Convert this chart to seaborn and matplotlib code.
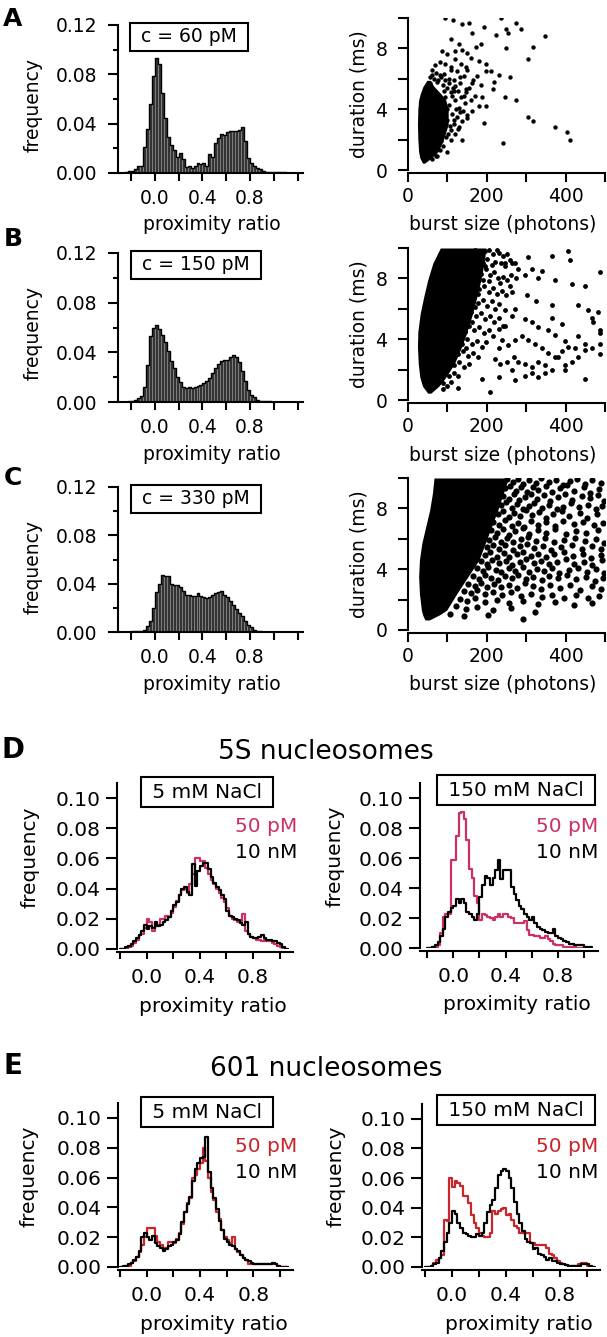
import numpy as np
import pandas as pd
import matplotlib
matplotlib.use("Agg")
import matplotlib.pyplot as plt
import seaborn as sns
from matplotlib.ticker import FixedLocator, FormatStrFormatter

# ---------------- data ----------------
# proximity-ratio histograms (panels A-C), bin width 0.025
pr_edges_abc = [round(v, 4) for v in np.arange(-0.25, 1.2001, 0.025)]
pr_centers_abc = [round(v + 0.0125, 5) for v in pr_edges_abc[:-1]]

freq_60pM = [0.001, 0.002, 0.002, 0.003, 0.006, 0.006, 0.021, 0.036, 0.056, 0.079,
             0.093, 0.088, 0.065, 0.045, 0.029, 0.023, 0.019, 0.013, 0.016, 0.011,
             0.005, 0.006, 0.004, 0.006, 0.008, 0.007, 0.008, 0.006, 0.015, 0.013,
             0.024, 0.028, 0.032, 0.031, 0.033, 0.034, 0.034, 0.034, 0.035, 0.037,
             0.026, 0.012, 0.008, 0.006, 0.004, 0.003, 0.002, 0.001, 0.001, 0.001,
             0.001, 0.0005, 0.0005, 0.0005, 0.0003, 0.0003, 0.0003, 0.0003]
freq_150pM = [0.0, 0.0005, 0.001, 0.002, 0.003, 0.005, 0.012, 0.030, 0.053, 0.060,
              0.062, 0.059, 0.054, 0.048, 0.041, 0.033, 0.027, 0.020, 0.016, 0.012,
              0.011, 0.012, 0.011, 0.012, 0.013, 0.014, 0.015, 0.017, 0.019, 0.023,
              0.027, 0.031, 0.033, 0.034, 0.034, 0.036, 0.038, 0.036, 0.032, 0.025,
              0.017, 0.010, 0.006, 0.004, 0.002, 0.001, 0.0005, 0.0005, 0.0005, 0.0003,
              0.0003, 0.0003, 0.0003, 0.0002, 0.0002, 0.0002, 0.0002, 0.0002]
freq_330pM = [0.0, 0.0, 0.0005, 0.0005, 0.001, 0.001, 0.002, 0.005, 0.009, 0.020,
              0.033, 0.040, 0.047, 0.046, 0.046, 0.040, 0.039, 0.039, 0.037, 0.034,
              0.031, 0.031, 0.030, 0.030, 0.032, 0.030, 0.029, 0.028, 0.029, 0.031,
              0.032, 0.033, 0.034, 0.031, 0.029, 0.026, 0.022, 0.019, 0.016, 0.013,
              0.009, 0.006, 0.004, 0.002, 0.001, 0.0005, 0.0003, 0.0002, 0.0002, 0.0002,
              0.0002, 0.0002, 0.0002, 0.0001, 0.0001, 0.0001, 0.0001, 0.0001]
conc_labels = ["c = 60 pM", "c = 150 pM", "c = 330 pM"]

# burst size / duration scatter: dense core envelope (ms vs photons) and individual bursts
core_A_y = [0.45, 0.8, 1.2, 2.0, 3.0, 4.0, 4.6, 5.0, 5.5, 5.9]
core_A_left = [37, 30, 27, 25, 24, 25, 27, 31, 38, 48]
core_A_right = [42, 60, 76, 90, 102, 102, 96, 84, 66, 56]
bursts_A = [(95,10.0),(114,9.9),(138,9.6),(155,9.7),(194,9.4),(237,10.0),(275,9.7),(288,9.3),(348,8.8),(318,8.1),
            (305,7.3),(249,9.3),(254,9.0),(224,8.9),(185,8.3),(249,8.0),(258,6.1),(245,4.8),(275,4.6),(241,1.75),
            (305,3.5),(318,3.2),(374,2.85),(404,2.5),(411,2.0),(194,3.1),(138,2.0),(99,1.2),(73,0.9),(215,5.3),
            (198,6.5),(219,5.8),(163,5.7),(146,6.8),(120,7.3),(108,6.8),(86,7.8),(69,6.9),(129,8.3),(108,8.6),
            (163,9.0),(172,8.1),(150,7.7),(198,7.0),(211,6.5),(181,7.2),(138,7.9),(232,6.25),(189,4.8),(181,4.2),
            (163,3.9),(198,4.2),(150,3.4),(129,2.85),(120,2.4),(108,2.0),(95,5.9),(103,5.7),(120,5.5),(146,5.3),
            (133,6.1),(82,6.25),(60,6.25),(56,5.7),(73,5.8),(95,4.8),(105,4.3),(112,3.7),(100,3.3),(118,3.0),
            (108,2.6),(96,2.2),(90,1.6),(80,1.3),(70,0.95),(60,0.7),(125,3.5),(130,4.1),(120,4.6),(110,5.1),
            (98,5.4),(88,5.6),(75,5.9),(65,6.0),(55,6.1),(140,3.9),(135,4.8),(145,4.4),(150,3.6),(100,4.0),
            (115,5.4),(128,5.2),(85,6.1),(70,6.4),(92,6.3),(105,6.0),(118,5.9),(132,5.7),(148,5.1),(160,4.6),
            (155,5.4),(170,4.9),(165,5.9),(142,6.2),(125,6.5),(110,6.6),(95,7.0),(80,7.1),(135,7.0),(150,6.6),
            (160,7.4),(175,6.2),(185,5.6),(120,7.8),(100,7.6),(112,4.9),(122,4.0),(116,3.3),(106,2.9),(102,2.4),
            (126,2.7),(138,3.2),(132,3.8),(142,4.9),(118,5.2),(92,5.2),(84,1.9),(62,6.6)]

core_B_y = [0.45, 0.9, 1.5, 2.4, 3.5, 4.5, 5.7, 6.8, 7.9, 9.0, 10.0]
core_B_left = [50, 37, 30, 26, 24, 25, 31, 40, 50, 63, 82]
core_B_right = [58, 78, 96, 118, 136, 150, 164, 175, 185, 193, 198]
bursts_B = [(170,9.9),(180,9.7),(195,9.8),(205,9.9),(215,9.6),(225,9.9),(232,9.7),(240,9.5),(250,9.6),(258,9.2),
            (265,9.0),(175,9.2),(190,9.0),(200,9.3),(212,8.9),(222,9.1),(235,9.0),(245,8.8),(172,8.5),(185,8.3),
            (197,8.6),(208,8.2),(218,8.4),(228,8.0),(240,8.1),(252,7.9),(262,8.2),(275,8.0),(168,7.6),(180,7.3),
            (193,7.5),(205,7.1),(215,7.4),(225,7.0),(238,7.2),(248,6.9),(258,7.5),(165,6.7),(178,6.4),(190,6.6),
            (200,6.2),(212,6.5),(222,6.0),(232,6.3),(245,5.9),(160,5.8),(172,5.5),(185,5.7),(195,5.3),(208,5.5),
            (218,5.1),(230,5.4),(240,4.9),(155,4.9),(168,4.6),(180,4.8),(192,4.4),(205,4.6),(215,4.2),(150,4.0),
            (162,3.7),(175,3.9),(188,3.5),(198,3.8),(140,3.2),(152,2.9),(165,3.1),(178,2.8),(130,2.5),(142,2.2),
            (155,2.4),(118,1.8),(128,1.6),(110,1.2),(100,0.9),(90,0.7),(160,9.5),(165,8.9),(163,8.0),(158,7.0),
            (155,6.2),(150,5.3),(145,4.5),(138,3.7),(128,3.0),(118,2.3),(105,1.6),(88,1.1),(185,9.5),(195,8.8),
            (205,7.8),(190,7.9),(178,7.0),(170,6.1),(162,5.1),(148,3.4),
            (234,7.7),(263,7.1),(305,9.4),(365,9.5),(407,9.8),(411,9.2),(487,8.4),(449,7.5),(417,7.6),(373,7.9),
            (331,8.0),(314,8.6),(340,8.5),(297,8.2),(280,8.6),(246,9.0),(272,9.0),(301,6.9),(324,6.5),(365,6.25),
            (432,6.25),(458,5.9),(483,5.8),(466,5.4),(470,5.15),(487,4.6),(487,4.4),(272,6.0),(263,5.5),(246,4.9),
            (230,4.7),(297,5.3),(314,5.15),(331,4.8),(365,5.4),(390,5.0),(356,4.6),(373,4.3),(398,3.9),(432,4.2),
            (449,3.7),(466,3.4),(487,3.7),(487,3.0),(449,3.3),(424,3.4),(407,3.5),(390,3.2),(373,2.85),(356,3.1),
            (340,3.4),(322,3.7),(305,3.95),(289,4.2),(272,3.95),(255,3.6),(238,3.95),(230,3.4),(221,2.7),(234,2.4),
            (251,2.5),(268,2.85),(280,2.5),(297,2.4),(314,2.2),(331,2.5),(348,2.3),(365,2.0),(381,2.85),(398,2.3),
            (415,2.5),(432,2.85),(449,1.4),(398,2.0),(297,1.6),(263,2.0),(230,1.5),(208,0.55),(187,1.4),(128,0.77),
            (314,1.75),(331,1.5),(348,1.75),(272,1.3)]

core_C_y = [0.66, 1.0, 1.3, 2.4, 3.5, 4.6, 5.7, 6.8, 7.9, 9.0, 10.0]
core_C_left = [43, 37, 34, 29, 27, 29, 35, 45, 55, 62, 66]
core_C_right = [54, 80, 98, 124, 152, 180, 196, 212, 228, 242, 255]
bursts_C = [(252,9.92),(266,9.71),(279,9.95),(293,9.58),(307,9.88),(324,9.66),(338,9.97),(357,9.74),(376,9.90),(393,9.55),
            (411,9.83),(428,9.96),(449,9.62),(468,9.87),(489,9.70),(246,9.31),(259,9.47),(273,9.12),(287,9.38),(301,9.05),
            (316,9.44),(331,9.21),(349,9.49),(366,9.08),(386,9.33),(404,9.52),(421,9.16),(446,9.40),(463,9.02),(486,9.28),
            (241,8.83),(256,8.61),(269,8.92),(282,8.55),(296,8.78),(311,8.97),(327,8.64),(346,8.86),(361,8.50),(381,8.73),
            (399,8.95),(417,8.58),(441,8.81),(461,8.66),(481,8.90),(497,8.47),(236,8.22),(249,8.41),(263,8.05),(277,8.30),
            (291,7.98),(306,8.18),(321,8.37),(339,8.02),(357,8.25),(377,7.93),(394,8.12),(413,8.34),(433,8.07),(456,8.21),
            (476,7.96),(493,8.15),(228,7.62),(242,7.81),(256,7.45),(269,7.70),(283,7.52),(299,7.88),(314,7.58),(333,7.76),
            (351,7.40),(369,7.66),(391,7.83),(409,7.47),(436,7.71),(454,7.35),(479,7.60),(217,7.12),(231,6.93),(247,7.22),
            (263,6.86),(279,7.05),(294,6.78),(313,7.15),(331,6.90),(349,7.08),(373,6.82),(394,7.19),(421,6.95),(444,7.11),
            (471,6.88),(494,7.03),(211,6.55),(226,6.36),(241,6.62),(256,6.28),(271,6.49),(291,6.70),(307,6.33),(329,6.58),
            (351,6.41),(374,6.66),(401,6.30),(426,6.52),(451,6.38),(481,6.61),(206,5.92),(221,6.10),(236,5.81),(251,6.03),
            (267,5.76),(286,5.97),(304,6.12),(326,5.85),(347,6.04),(371,5.79),(397,5.95),(423,6.08),(449,5.83),(477,5.99),
            (497,5.72),(201,5.45),(216,5.62),(231,5.33),(247,5.58),(266,5.28),(283,5.51),(301,5.66),(319,5.38),(343,5.55),
            (364,5.25),(389,5.47),(416,5.60),(441,5.30),(467,5.52),(491,5.36),(196,4.95),(209,5.12),(226,4.83),(243,5.06),
            (257,4.78),(276,4.99),(291,5.15),(311,4.86),(329,5.03),(351,4.80),(371,4.97),(396,5.10),(419,4.84),(443,5.01),
            (464,4.76),(489,4.93),(186,4.52),(201,4.35),(214,4.61),(231,4.40),(249,4.57),(264,4.28),(283,4.49),(299,4.66),
            (319,4.38),(337,4.55),(359,4.31),(377,4.50),(401,4.64),(421,4.33),(446,4.47),(467,4.25),(493,4.58),(176,4.05),
            (191,3.88),(204,4.12),(223,3.95),(237,3.80),(256,4.08),(271,3.90),(291,4.15),(307,3.83),(327,4.02),(344,3.86),
            (366,4.10),(384,3.78),(409,3.97),(431,4.11),(454,3.82),(477,4.00),(497,3.75),(166,3.52),(181,3.38),(196,3.61),
            (211,3.45),(229,3.30),(246,3.57),(263,3.41),(279,3.63),(299,3.35),(317,3.50),(339,3.28),(357,3.55),(381,3.40),
            (403,3.62),(426,3.33),(451,3.48),(474,3.25),(496,3.44),(152,3.05),(169,2.92),(186,3.10),(201,2.85),(219,3.02),
            (235,2.80),(256,2.96),(276,2.75),(296,3.07),(316,2.88),(337,2.70),(361,2.98),(386,2.78),(411,2.93),(437,2.66),
            (466,2.90),(489,2.72),(141,2.55),(159,2.42),(176,2.60),(196,2.35),(216,2.50),(239,2.28),(261,2.47),(286,2.22),
            (311,2.40),(339,2.15),(366,2.33),(396,2.12),(426,2.30),(456,2.08),(486,2.25),(131,2.05),(149,1.92),(171,2.10),
            (196,1.85),(226,1.98),(256,1.75),(291,1.90),(331,1.70),(372,1.82),(421,1.65),(468,1.78),(121,1.55),(146,1.40),
            (176,1.50),(216,1.30),(262,1.45),(322,1.20),(106,1.05),(141,0.90),(203,1.00),(292,0.75)]

# nucleosome histograms (panels D, E), bin width 0.02
pr_edges_de = [round(v, 4) for v in np.arange(-0.2, 1.0601, 0.02)]
pr_centers_de = [round(v + 0.01, 5) for v in pr_edges_de[:-1]]
salt_labels = ["5 mM NaCl", "150 mM NaCl"]
series_labels = ["50 pM", "10 nM"]

s5_5mM_50pM = [0.000, 0.000, 0.000, 0.001, 0.002, 0.004, 0.006, 0.009, 0.010, 0.014,
               0.020, 0.018, 0.012, 0.015, 0.016, 0.020, 0.020, 0.022, 0.021, 0.024,
               0.028, 0.032, 0.036, 0.039, 0.040, 0.037, 0.043, 0.050, 0.060, 0.060,
               0.058, 0.058, 0.054, 0.050, 0.046, 0.043, 0.040, 0.037, 0.034, 0.031,
               0.027, 0.022, 0.020, 0.019, 0.018, 0.018, 0.023, 0.012, 0.010, 0.008,
               0.007, 0.006, 0.006, 0.005, 0.006, 0.005, 0.005, 0.004, 0.003, 0.002,
               0.001, 0.000, 0.000]
s5_5mM_10nM = [0.000, 0.000, 0.001, 0.002, 0.003, 0.005, 0.007, 0.009, 0.012, 0.016,
               0.013, 0.015, 0.014, 0.018, 0.015, 0.016, 0.018, 0.019, 0.021, 0.025,
               0.029, 0.031, 0.036, 0.040, 0.041, 0.038, 0.036, 0.056, 0.042, 0.052,
               0.055, 0.057, 0.057, 0.053, 0.048, 0.044, 0.041, 0.039, 0.036, 0.033,
               0.025, 0.022, 0.021, 0.020, 0.019, 0.017, 0.016, 0.018, 0.010, 0.008,
               0.007, 0.007, 0.008, 0.009, 0.007, 0.006, 0.006, 0.005, 0.005, 0.004,
               0.003, 0.001, 0.000]
s5_150mM_50pM = [0.000, 0.000, 0.001, 0.001, 0.002, 0.010, 0.021, 0.023, 0.023, 0.059,
                 0.059, 0.075, 0.090, 0.091, 0.086, 0.072, 0.053, 0.047, 0.035, 0.030,
                 0.019, 0.023, 0.022, 0.021, 0.020, 0.019, 0.021, 0.023, 0.021, 0.023,
                 0.023, 0.021, 0.020, 0.017, 0.017, 0.017, 0.017, 0.018, 0.012, 0.009,
                 0.009, 0.008, 0.008, 0.007, 0.007, 0.008, 0.006, 0.005, 0.003, 0.002,
                 0.002, 0.002, 0.001, 0.001, 0.001, 0.001, 0.001, 0.000, 0.000, 0.000,
                 0.000, 0.000, 0.000]
s5_150mM_10nM = [0.000, 0.000, 0.001, 0.002, 0.004, 0.008, 0.013, 0.021, 0.024, 0.027,
                 0.028, 0.033, 0.030, 0.033, 0.030, 0.024, 0.023, 0.021, 0.019, 0.023,
                 0.034, 0.042, 0.048, 0.047, 0.042, 0.047, 0.052, 0.059, 0.046, 0.052,
                 0.052, 0.052, 0.041, 0.036, 0.032, 0.028, 0.026, 0.023, 0.021, 0.019,
                 0.021, 0.017, 0.014, 0.013, 0.012, 0.011, 0.010, 0.010, 0.013, 0.008,
                 0.007, 0.006, 0.005, 0.004, 0.003, 0.003, 0.002, 0.002, 0.002, 0.002,
                 0.001, 0.001, 0.001]
n601_5mM_50pM = [0.000, 0.000, 0.001, 0.001, 0.003, 0.004, 0.007, 0.010, 0.015, 0.020,
                 0.026, 0.026, 0.026, 0.021, 0.017, 0.015, 0.013, 0.013, 0.017, 0.017,
                 0.016, 0.019, 0.023, 0.029, 0.037, 0.043, 0.046, 0.060, 0.062, 0.066,
                 0.070, 0.080, 0.071, 0.060, 0.050, 0.045, 0.037, 0.032, 0.025, 0.020,
                 0.018, 0.016, 0.020, 0.012, 0.010, 0.008, 0.006, 0.005, 0.002, 0.002,
                 0.002, 0.002, 0.002, 0.002, 0.002, 0.002, 0.002, 0.002, 0.002, 0.001,
                 0.000, 0.000, 0.000]
n601_5mM_10nM = [0.000, 0.001, 0.001, 0.002, 0.003, 0.005, 0.007, 0.011, 0.020, 0.023,
                 0.020, 0.018, 0.021, 0.016, 0.014, 0.013, 0.011, 0.012, 0.014, 0.015,
                 0.017, 0.018, 0.022, 0.030, 0.037, 0.042, 0.047, 0.058, 0.066, 0.070,
                 0.073, 0.074, 0.087, 0.064, 0.053, 0.046, 0.039, 0.031, 0.025, 0.019,
                 0.017, 0.015, 0.014, 0.012, 0.011, 0.008, 0.006, 0.005, 0.004, 0.003,
                 0.002, 0.002, 0.002, 0.002, 0.002, 0.002, 0.002, 0.003, 0.002, 0.001,
                 0.000, 0.000, 0.000]
n601_150mM_50pM = [0.000, 0.000, 0.001, 0.003, 0.005, 0.006, 0.008, 0.032, 0.031, 0.060,
                   0.054, 0.058, 0.057, 0.055, 0.048, 0.048, 0.043, 0.035, 0.030, 0.026,
                   0.023, 0.021, 0.020, 0.020, 0.023, 0.038, 0.036, 0.038, 0.039, 0.040,
                   0.035, 0.036, 0.032, 0.028, 0.026, 0.023, 0.023, 0.023, 0.023, 0.016,
                   0.016, 0.015, 0.015, 0.015, 0.015, 0.013, 0.009, 0.008, 0.006, 0.004,
                   0.003, 0.002, 0.0015, 0.001, 0.001, 0.001, 0.001, 0.002, 0.003, 0.003,
                   0.001, 0.000, 0.000]
n601_150mM_10nM = [0.000, 0.000, 0.001, 0.002, 0.003, 0.006, 0.011, 0.017, 0.023, 0.030,
                   0.038, 0.036, 0.030, 0.026, 0.023, 0.022, 0.021, 0.020, 0.020, 0.022,
                   0.021, 0.023, 0.030, 0.037, 0.042, 0.045, 0.053, 0.062, 0.065, 0.066,
                   0.065, 0.060, 0.053, 0.044, 0.036, 0.030, 0.024, 0.019, 0.017, 0.016,
                   0.012, 0.013, 0.009, 0.008, 0.007, 0.005, 0.006, 0.004, 0.004, 0.003,
                   0.002, 0.002, 0.0015, 0.001, 0.001, 0.001, 0.001, 0.001, 0.002, 0.002,
                   0.002, 0.001, 0.000]

# ---------------- figure ----------------
sns.set_theme(style="ticks", rc={"axes.edgecolor": "black", "xtick.color": "black",
                                 "ytick.color": "black", "text.color": "black",
                                 "axes.labelcolor": "black"})
plt.rcParams["font.family"] = ["DejaVu Sans"]

W, H = 607, 1337
fig = plt.figure(figsize=(W / 100, H / 100), dpi=100)
fig.patch.set_facecolor("white")


def px_axes(l, t, r, b):
    return fig.add_axes([l / W, 1 - b / H, (r - l) / W, (b - t) / H])


def ftext(x, y, s, **kw):
    return fig.text(x / W, 1 - y / H, s, **kw)


def base_style(ax):
    for sp in ["top", "right"]:
        ax.spines[sp].set_visible(False)
    for sp in ["left", "bottom"]:
        ax.spines[sp].set_linewidth(1.5)
    ax.set_xlabel("")
    ax.set_ylabel("")
    ax.set_facecolor("white")


BOX = dict(boxstyle="square,pad=0.25", facecolor="white", edgecolor="black", linewidth=1.5)

# ---- panels A-C ----
hist_rows = [(25, 173), (253, 402), (487, 632)]
hist_data = [freq_60pM, freq_150pM, freq_330pM]
scatter_rows = [(18, 170), (248, 400), (478, 630)]
cores = [(core_A_y, core_A_left, core_A_right, bursts_A, 10),
         (core_B_y, core_B_left, core_B_right, bursts_B, 12),
         (core_C_y, core_C_left, core_C_right, bursts_C, 20)]
letters = ["A", "B", "C"]
letter_y = [19, 239, 478]
box_x = [189, 196, 196]

for i in range(3):
    t, b = hist_rows[i]
    ax = px_axes(118, t, 303, b)
    hdf = pd.DataFrame({"pr": pr_centers_abc, "freq": hist_data[i]})
    sns.histplot(data=hdf, x="pr", weights="freq", bins=pr_edges_abc, ax=ax,
                 color="#333333", edgecolor="#8c8c8c", linewidth=0.5, alpha=1)
    sns.histplot(data=hdf, x="pr", weights="freq", bins=pr_edges_abc, ax=ax,
                 element="step", fill=False, color="black", linewidth=1.0)
    base_style(ax)
    ax.set_xlim(-0.31, 1.245)
    ax.set_ylim(0, 0.12)
    ax.xaxis.set_major_locator(FixedLocator([0.0, 0.4, 0.8]))
    ax.xaxis.set_minor_locator(FixedLocator([-0.2, 0.2, 0.6, 1.0, 1.2]))
    ax.yaxis.set_major_locator(FixedLocator([0.0, 0.04, 0.08, 0.12]))
    ax.yaxis.set_minor_locator(FixedLocator([0.02, 0.06, 0.10]))
    ax.xaxis.set_major_formatter(FormatStrFormatter("%.1f"))
    ax.yaxis.set_major_formatter(FormatStrFormatter("%.2f"))
    ax.tick_params(axis="x", which="both", length=5.8, width=1.5, pad=6, labelsize=13.5, direction="out")
    ax.tick_params(axis="y", which="major", length=7, width=1.5, pad=8, labelsize=13.5, direction="out")
    ax.tick_params(axis="y", which="minor", length=3.5, width=1.5, direction="out")
    ftext(33, t + 80, "frequency", rotation=90, ha="center", va="center", fontsize=13.5)
    ftext(212, b + 52, "proximity ratio", ha="center", va="center", fontsize=13.5)
    ftext(box_x[i], t + 12, " " + conc_labels[i] + " ",
          ha="center", va="center", fontsize=13.5, bbox=BOX)
    ftext(13, letter_y[i], letters[i], ha="center", va="center", fontsize=18, fontweight="bold")

    # scatter
    st, sb = scatter_rows[i]
    axs = px_axes(408, st, 605, sb)
    cy, cl, cr, pts, msize = cores[i]
    axs.fill_betweenx(cy, cl, cr, color="black", linewidth=0)
    sdf = pd.DataFrame(pts, columns=["photons", "ms"])
    sns.scatterplot(data=sdf, x="photons", y="ms", ax=axs, s=msize,
                    color="black", linewidth=0)
    base_style(axs)
    axs.spines["bottom"].set_position(("outward", 2))
    axs.set_xlim(0, 500)
    axs.set_ylim(0, 10)
    axs.xaxis.set_major_locator(FixedLocator([0, 200, 400]))
    axs.xaxis.set_minor_locator(FixedLocator([100, 300, 500]))
    axs.yaxis.set_major_locator(FixedLocator([0, 4, 8]))
    axs.yaxis.set_minor_locator(FixedLocator([2, 6, 10]))
    axs.xaxis.set_major_formatter(FormatStrFormatter("%d"))
    axs.yaxis.set_major_formatter(FormatStrFormatter("%d"))
    axs.tick_params(axis="x", which="both", length=6.5, width=1.5, pad=4, labelsize=13.5, direction="out")
    axs.tick_params(axis="y", which="both", length=7, width=1.5, pad=8, labelsize=13.5, direction="out")
    ftext(359, st + 76, "duration (ms)", rotation=90, ha="center", va="center", fontsize=13.5)
    ftext(503, sb + 55, "burst size (photons)", ha="center", va="center", fontsize=13.5)

# ---- panels D-E ----
RED_D = "#cd3163"
RED_E = "#c9262c"
de_axes = [
    (117, 783, 293, 949, (-0.223, 1.10), s5_5mM_50pM, s5_5mM_10nM, RED_D, (207, 792), 0, 30, 297),
    (420, 783, 598, 948, (-0.254, 1.105), s5_150mM_50pM, s5_150mM_10nM, RED_D, (516, 790), 1, 335, 598),
    (118, 1103, 293, 1267, (-0.215, 1.097), n601_5mM_50pM, n601_5mM_10nM, RED_E, (207, 1112), 0, 29, 297),
    (422, 1104, 600, 1267, (-0.224, 1.10), n601_150mM_50pM, n601_150mM_10nM, RED_E, (516, 1110), 1, 336, 598),
]
for (l, t, r, b, xl, red_vals, blk_vals, red_c, boxc, si, fx, rx) in de_axes:
    ax = px_axes(l, t, r, b)
    ddf = pd.DataFrame({"pr": pr_centers_de, "red": red_vals, "black": blk_vals})
    sns.histplot(data=ddf, x="pr", weights="red", bins=pr_edges_de, element="step", fill=False,
                 color=red_c, linewidth=1.6, ax=ax)
    sns.histplot(data=ddf, x="pr", weights="black", bins=pr_edges_de, element="step", fill=False,
                 color="black", linewidth=1.6, ax=ax)
    base_style(ax)
    ax.spines["bottom"].set_position(("outward", 2))
    ax.set_xlim(*xl)
    ax.set_ylim(0, 0.11)
    ax.xaxis.set_major_locator(FixedLocator([0.0, 0.4, 0.8]))
    ax.xaxis.set_minor_locator(FixedLocator([-0.2, 0.2, 0.6, 1.0]))
    ax.yaxis.set_major_locator(FixedLocator([0.0, 0.02, 0.04, 0.06, 0.08, 0.10]))
    ax.xaxis.set_major_formatter(FormatStrFormatter("%.1f"))
    ax.yaxis.set_major_formatter(FormatStrFormatter("%.2f"))
    ax.tick_params(axis="x", which="both", length=5, width=1.5, pad=7, labelsize=14.5, direction="out")
    ax.tick_params(axis="y", which="major", length=8, width=1.5, pad=4, labelsize=14.5, direction="out")
    ftext(boxc[0], boxc[1], " " + salt_labels[si] + " ", ha="center", va="center", fontsize=14.5, bbox=BOX)
    ftext(rx, t + 43, series_labels[0], ha="right", va="center", fontsize=14.5, color=red_c)
    ftext(rx, t + 69, series_labels[1], ha="right", va="center", fontsize=14.5, color="black")
    ftext(fx, (t + b) / 2 - 9, "frequency", rotation=90, ha="center", va="center", fontsize=14.5)
    ftext((l + r) / 2 + 8, b + 57, "proximity ratio", ha="center", va="center", fontsize=14.5)

ftext(13, 750, "D", ha="center", va="center", fontsize=20, fontweight="bold")
ftext(13, 1066, "E", ha="center", va="center", fontsize=20, fontweight="bold")
ftext(326, 752, "5S nucleosomes", ha="center", va="center", fontsize=19)
ftext(326, 1069, "601 nucleosomes", ha="center", va="center", fontsize=19)

fig.savefig("out.png", dpi=100, facecolor="white")
